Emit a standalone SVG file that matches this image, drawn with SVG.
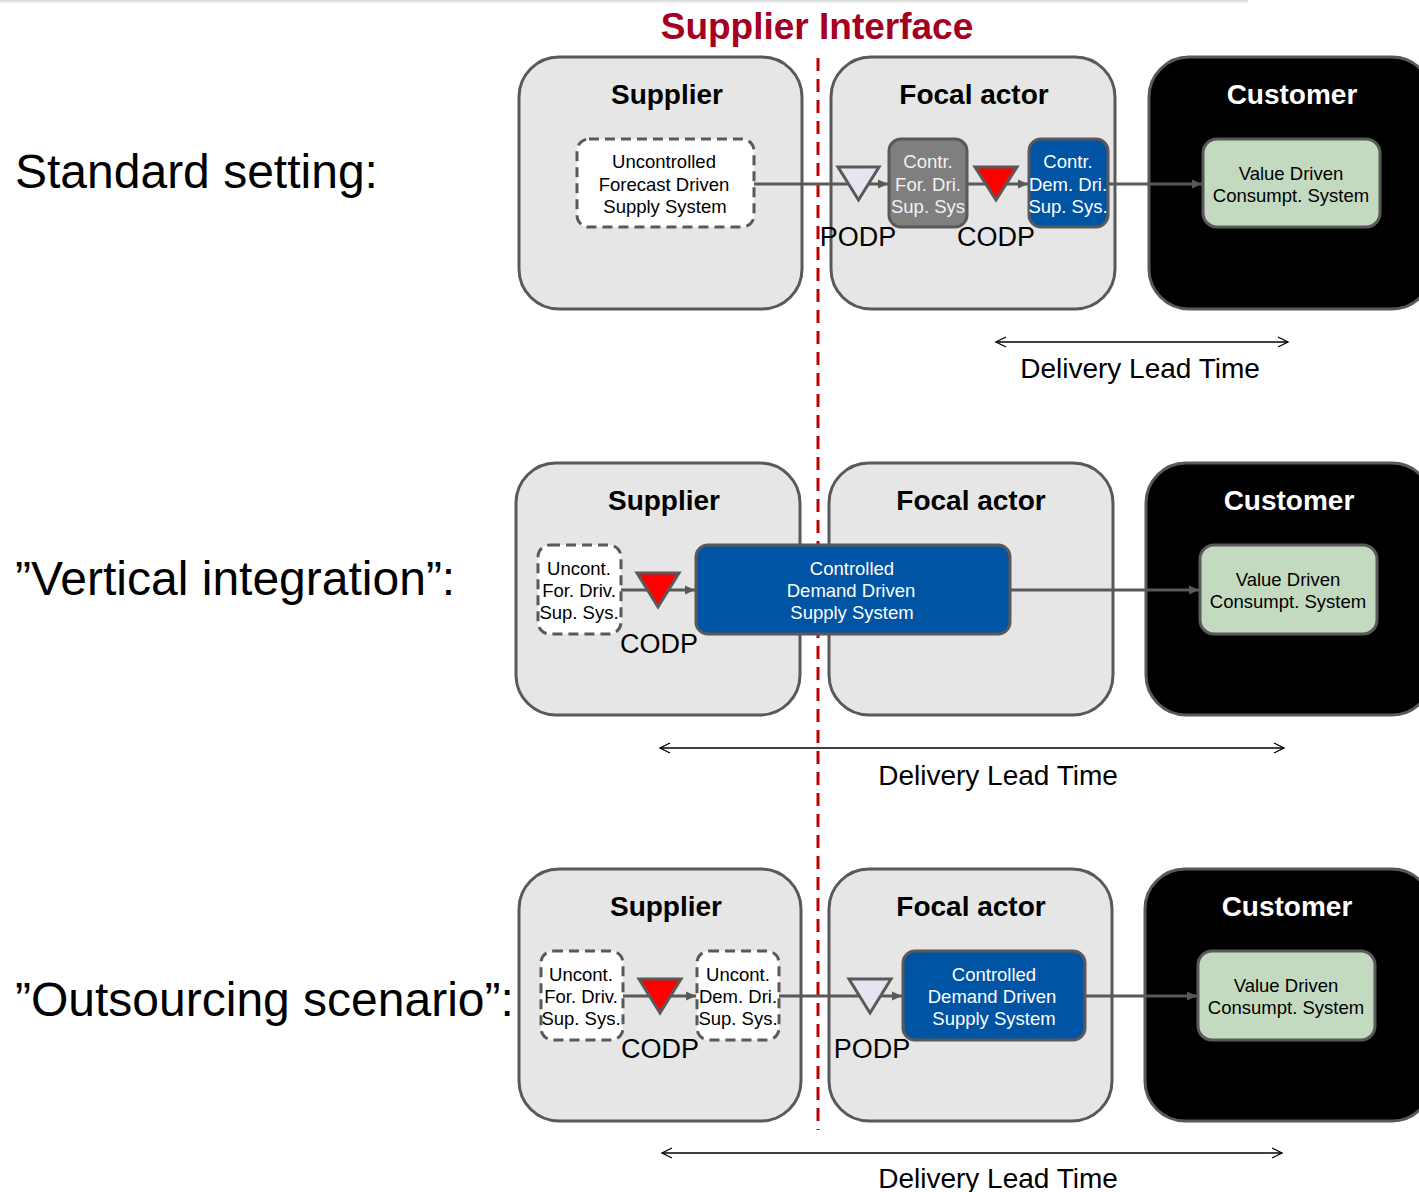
<svg xmlns="http://www.w3.org/2000/svg" width="1419" height="1192" viewBox="0 0 1419 1192">
  <defs>
    <linearGradient id="topShade" x1="0" y1="0" x2="0" y2="1">
      <stop offset="0" stop-color="#d4d4d4"/>
      <stop offset="1" stop-color="#ffffff" stop-opacity="0"/>
    </linearGradient>
    <marker id="flowHead" markerUnits="userSpaceOnUse" markerWidth="12" markerHeight="12" refX="10" refY="6" orient="auto">
      <path d="M0,1.5 L10,6 L0,10.5 z" fill="#595959"/>
    </marker>
    <marker id="spanHead" markerUnits="userSpaceOnUse" markerWidth="14" markerHeight="14" refX="12" refY="7" orient="auto-start-reverse">
      <path d="M2,2 L12,7 L2,12" fill="none" stroke="#000" stroke-width="1.3"/>
    </marker>
    <style>
      text { font-family: "Liberation Sans", Arial, Helvetica, sans-serif; fill: #000; }
      .actor { fill: #e6e6e6; stroke: #595959; stroke-width: 3; }
      .cust { fill: #000; stroke: #595959; stroke-width: 3; }
      .uncont { fill: #fff; stroke: #595959; stroke-width: 3; stroke-dasharray: 10 6; }
      .ctrlfor { fill: #7f7f7f; stroke: #595959; stroke-width: 3; }
      .ctrldem { fill: #0054a4; stroke: #595959; stroke-width: 3; }
      .value { fill: #c4dac0; stroke: #595959; stroke-width: 3; }
      .podp { fill: #e5e5ef; stroke: #595959; stroke-width: 3; }
      .codp { fill: #ff0000; stroke: #595959; stroke-width: 3; }
      .flow { fill: none; stroke: #595959; stroke-width: 3; marker-end: url(#flowHead); }
      .span { fill: none; stroke: #000; stroke-width: 1.3; marker-start: url(#spanHead); marker-end: url(#spanHead); }
      .iface { stroke: #c00000; stroke-width: 3; stroke-dasharray: 13 8; }
      .head { font-size: 37px; font-weight: bold; fill: #a50021; text-anchor: middle; }
      .scen { font-size: 48px; }
      .title { font-size: 28px; font-weight: bold; text-anchor: middle; }
      .title.inv { fill: #fff; }
      .node { font-size: 18.5px; text-anchor: middle; }
      .node.light { fill: #f2f2f2; }
      .node.inv { fill: #fff; }
      .pt { font-size: 27px; text-anchor: middle; }
      .dlt { font-size: 28px; text-anchor: middle; }
    </style>
  </defs>

  <rect width="1419" height="1192" fill="#fff"/>
  <rect x="0" y="0" width="1248" height="6" fill="url(#topShade)"/>

  <text class="head" x="817" y="39">Supplier Interface</text>

  <!-- scenario captions -->
  <text class="scen" x="15" y="188">Standard setting:</text>
  <text class="scen" x="15" y="595">”Vertical integration”:</text>
  <text class="scen" x="15" y="1016">”Outsourcing scenario”:</text>

  <!-- ===== Standard setting ===== -->
  <g id="s1-supplier">
    <rect class="actor" x="519" y="57" width="283" height="252" rx="40"/>
    <text class="title" x="667" y="104">Supplier</text>
  </g>
  <g id="s1-focal">
    <rect class="actor" x="831" y="57" width="284" height="252" rx="40"/>
    <text class="title" x="974" y="104">Focal actor</text>
  </g>
  <g id="s1-customer">
    <rect class="cust" x="1149" y="57" width="283" height="252" rx="40"/>
    <text class="title inv" x="1292" y="104">Customer</text>
  </g>

  <!-- ===== Vertical integration ===== -->
  <g id="s2-supplier">
    <rect class="actor" x="516" y="463" width="284" height="252" rx="40"/>
    <text class="title" x="664" y="510">Supplier</text>
  </g>
  <g id="s2-focal">
    <rect class="actor" x="829" y="463" width="284" height="252" rx="40"/>
    <text class="title" x="971" y="510">Focal actor</text>
  </g>
  <g id="s2-customer">
    <rect class="cust" x="1146" y="463" width="286" height="252" rx="40"/>
    <text class="title inv" x="1289" y="510">Customer</text>
  </g>

  <!-- ===== Outsourcing scenario ===== -->
  <g id="s3-supplier">
    <rect class="actor" x="519" y="869" width="282" height="252" rx="40"/>
    <text class="title" x="666" y="916">Supplier</text>
  </g>
  <g id="s3-focal">
    <rect class="actor" x="829" y="869" width="283" height="252" rx="40"/>
    <text class="title" x="971" y="916">Focal actor</text>
  </g>
  <g id="s3-customer">
    <rect class="cust" x="1145" y="869" width="287" height="252" rx="40"/>
    <text class="title inv" x="1287" y="916">Customer</text>
  </g>

  <!-- supplier interface boundary -->
  <g id="interface-line">
    <line class="iface" x1="818" y1="58" x2="818" y2="1130"/>
  </g>

  <!-- material flows and lead-time spans -->
  <g id="connectors">
    <path class="flow" d="M754,184 H888"/>
    <path class="flow" d="M967,184 H1028"/>
    <path class="flow" d="M1108,184 H1202"/>

    <path class="flow" d="M621,590 H695"/>
    <path class="flow" d="M1010,590 H1199"/>

    <path class="flow" d="M623,996 H696"/>
    <path class="flow" d="M779,996 H902"/>
    <path class="flow" d="M1085,996 H1197"/>

    <path class="span" d="M996,342 H1288"/>
    <path class="span" d="M660,748 H1284"/>
    <path class="span" d="M662,1153 H1282"/>
  </g>

  <!-- Standard setting: inner systems -->
  <g id="s1-ufd">
    <rect class="uncont" x="577" y="139" width="177" height="88" rx="12"/>
    <text class="node" x="664" y="168">Uncontrolled</text>
    <text class="node" x="664" y="191">Forecast Driven</text>
    <text class="node" x="665" y="213">Supply System</text>
  </g>
  <g id="s1-podp">
    <polygon class="podp" points="838,167 879,167 858.5,200"/>
    <text class="pt" x="858" y="246">PODP</text>
  </g>
  <g id="s1-cfd">
    <rect class="ctrlfor" x="889" y="139" width="78" height="88" rx="12"/>
    <text class="node light" x="928" y="168">Contr.</text>
    <text class="node light" x="928" y="191">For. Dri.</text>
    <text class="node light" x="928" y="213">Sup. Sys</text>
  </g>
  <g id="s1-codp">
    <polygon class="codp" points="975,167 1017,167 996,200"/>
    <text class="pt" x="996" y="246">CODP</text>
  </g>
  <g id="s1-cdd">
    <rect class="ctrldem" x="1029" y="139" width="79" height="88" rx="12"/>
    <text class="node inv" x="1068" y="168">Contr.</text>
    <text class="node inv" x="1068" y="191">Dem. Dri.</text>
    <text class="node inv" x="1068" y="213">Sup. Sys.</text>
  </g>
  <g id="s1-value">
    <rect class="value" x="1203" y="139" width="177" height="88" rx="14"/>
    <text class="node" x="1291" y="180">Value Driven</text>
    <text class="node" x="1291" y="202">Consumpt. System</text>
  </g>
  <text class="dlt" x="1140" y="378">Delivery Lead Time</text>

  <!-- Vertical integration: inner systems -->
  <g id="s2-ufd">
    <rect class="uncont" x="538" y="545" width="83" height="89" rx="12"/>
    <text class="node" x="579" y="575">Uncont.</text>
    <text class="node" x="579" y="597">For. Driv.</text>
    <text class="node" x="579" y="619">Sup. Sys.</text>
  </g>
  <g id="s2-codp">
    <polygon class="codp" points="637,573 679,573 658,607"/>
    <text class="pt" x="659" y="653">CODP</text>
  </g>
  <g id="s2-cdd">
    <rect class="ctrldem" x="696" y="545" width="314" height="89" rx="12"/>
    <text class="node inv" x="852" y="575">Controlled</text>
    <text class="node inv" x="851" y="597">Demand Driven</text>
    <text class="node inv" x="852" y="619">Supply System</text>
  </g>
  <g id="s2-value">
    <rect class="value" x="1200" y="545" width="177" height="89" rx="14"/>
    <text class="node" x="1288" y="586">Value Driven</text>
    <text class="node" x="1288" y="608">Consumpt. System</text>
  </g>
  <text class="dlt" x="998" y="785">Delivery Lead Time</text>

  <!-- Outsourcing scenario: inner systems -->
  <g id="s3-ufd">
    <rect class="uncont" x="541" y="951" width="82" height="89" rx="12"/>
    <text class="node" x="581" y="981">Uncont.</text>
    <text class="node" x="581" y="1003">For. Driv.</text>
    <text class="node" x="581" y="1025">Sup. Sys.</text>
  </g>
  <g id="s3-codp">
    <polygon class="codp" points="639,979 681,979 660,1013"/>
    <text class="pt" x="660" y="1058">CODP</text>
  </g>
  <g id="s3-udd">
    <rect class="uncont" x="697" y="951" width="82" height="89" rx="12"/>
    <text class="node" x="738" y="981">Uncont.</text>
    <text class="node" x="738" y="1003">Dem. Dri.</text>
    <text class="node" x="738" y="1025">Sup. Sys.</text>
  </g>
  <g id="s3-podp">
    <polygon class="podp" points="849,979 891,979 870,1013"/>
    <text class="pt" x="872" y="1058">PODP</text>
  </g>
  <g id="s3-cdd">
    <rect class="ctrldem" x="903" y="951" width="182" height="89" rx="12"/>
    <text class="node inv" x="994" y="981">Controlled</text>
    <text class="node inv" x="992" y="1003">Demand Driven</text>
    <text class="node inv" x="994" y="1025">Supply System</text>
  </g>
  <g id="s3-value">
    <rect class="value" x="1198" y="951" width="177" height="89" rx="14"/>
    <text class="node" x="1286" y="992">Value Driven</text>
    <text class="node" x="1286" y="1014">Consumpt. System</text>
  </g>
  <text class="dlt" x="998" y="1188">Delivery Lead Time</text>
</svg>
